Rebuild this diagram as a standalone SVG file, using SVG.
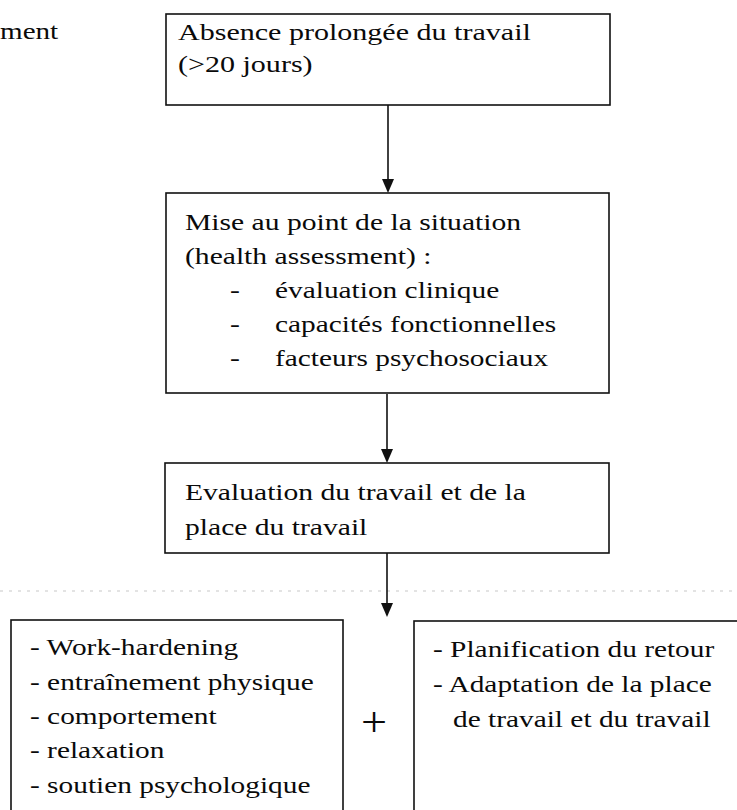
<svg xmlns="http://www.w3.org/2000/svg" width="737" height="810" viewBox="0 0 737 810">
<defs>
<style>
.box{fill:#fff;stroke:#111;stroke-width:1.6}
.t{font-family:"Liberation Serif","Times New Roman",serif;font-size:23.3px;fill:#0a0a0a}
.ln{stroke:#111;stroke-width:1.6;fill:none}
.dot{stroke:#c8c8c8;stroke-width:1.2;stroke-dasharray:3 6;fill:none}
</style>
</defs>
<rect width="737" height="810" fill="#fff"/>

<g id="fragment">
<text class="t" transform="translate(0,39) scale(1.25,1)">ment</text>
</g>

<g id="connectors">
<line class="dot" x1="0" y1="591" x2="737" y2="591"/>
<path class="ln" d="M388,105 V180"/>
<path d="M382,179 L394,179 L388,193 Z" fill="#111"/>
<path class="ln" d="M387,394 V450"/>
<path d="M381,449 L393,449 L387,463 Z" fill="#111"/>
<path class="ln" d="M387,553 V604"/>
<path d="M381,603 L393,603 L387,617 Z" fill="#111"/>
</g>

<g id="node-absence">
<rect class="box" x="166" y="14" width="444" height="91"/>
<text class="t" transform="translate(178,40) scale(1.29,1)"><tspan x="0" y="0">Absence prolongée du travail</tspan><tspan x="0" y="32">(&gt;20 jours)</tspan></text>
</g>

<g id="node-mise-au-point">
<rect class="box" x="166" y="193" width="443" height="200"/>
<text class="t" transform="translate(185,230) scale(1.27,1)"><tspan x="0" y="0">Mise au point de la situation</tspan><tspan x="0" y="34">(health assessment) :</tspan></text>
<text class="t" transform="translate(230,0) scale(1.27,1)"><tspan x="0" y="298">-</tspan><tspan x="0" y="332">-</tspan><tspan x="0" y="366">-</tspan></text>
<text class="t" transform="translate(275,0) scale(1.26,1)"><tspan x="0" y="298">évaluation clinique</tspan><tspan x="0" y="332">capacités fonctionnelles</tspan><tspan x="0" y="366">facteurs psychosociaux</tspan></text>
</g>

<g id="node-evaluation">
<rect class="box" x="165" y="463" width="444" height="90"/>
<text class="t" transform="translate(185,0) scale(1.27,1)"><tspan x="0" y="500">Evaluation du travail et de la</tspan><tspan x="0" y="535">place du travail</tspan></text>
</g>

<g id="node-interventions">
<rect class="box" x="11" y="620" width="332" height="200"/>
<text class="t" transform="translate(30,0) scale(1.26,1)"><tspan x="0" y="655">- Work-hardening</tspan><tspan x="0" y="690">- entraînement physique</tspan><tspan x="0" y="724">- comportement</tspan><tspan x="0" y="758">- relaxation</tspan><tspan x="0" y="793">- soutien psychologique</tspan></text>
</g>

<g id="plus">
<text class="t" transform="translate(374,736) scale(1.1,1)" text-anchor="middle" style="font-size:42px">+</text>
</g>

<g id="node-retour">
<rect class="box" x="414" y="621" width="340" height="200"/>
<text class="t" transform="translate(433,0) scale(1.26,1)"><tspan x="0" y="657">- Planification du retour</tspan><tspan x="0" y="692">- Adaptation de la place</tspan></text>
<text class="t" transform="translate(453,727) scale(1.26,1)">de travail et du travail</text>
</g>
</svg>
